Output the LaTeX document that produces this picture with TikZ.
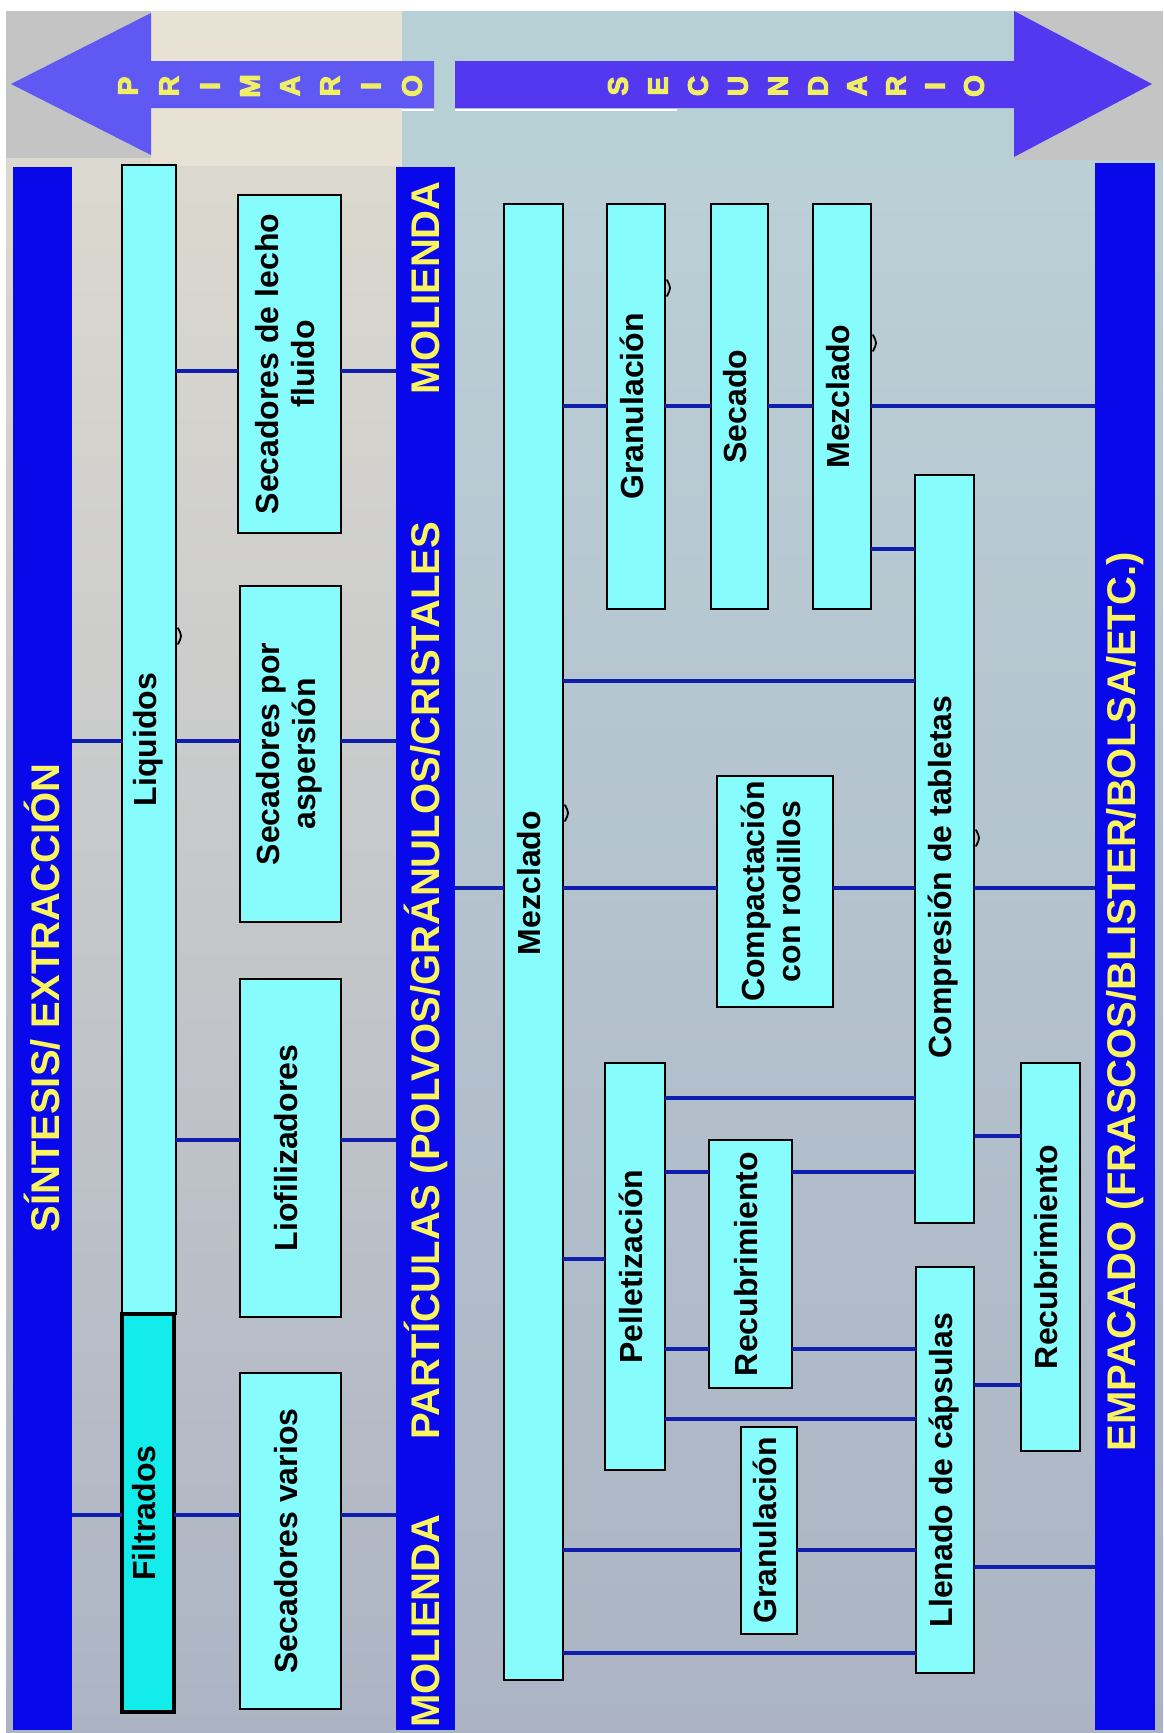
\documentclass[tikz,border=0pt]{standalone}
\usepackage{fontspec}
\setmainfont{Liberation Sans}
\newfontfamily\arrowfont{Liberation Sans}[UprightFeatures={FakeBold=4}, BoldFeatures={FakeBold=4}]
\usetikzlibrary{calc}

% palette
\definecolor{barblue}{RGB}{8,8,235}
\definecolor{baryellow}{RGB}{250,245,95}
\definecolor{boxcyan}{RGB}{135,252,252}
\definecolor{filtcyan}{RGB}{20,236,236}
\definecolor{linkblue}{RGB}{15,30,172}
\definecolor{arrowleft}{RGB}{95,88,242}
\definecolor{arrowright}{RGB}{84,56,240}
\definecolor{arrowtext}{RGB}{240,238,100}
\definecolor{bgltop}{RGB}{224,220,208}
\definecolor{bgrtop}{RGB}{188,210,216}
\definecolor{bgmid}{RGB}{160,170,190}
\definecolor{bgbot}{RGB}{172,180,196}
\definecolor{bggray}{RGB}{196,196,196}
\definecolor{bgbeige}{RGB}{232,226,212}
\definecolor{bgpale}{RGB}{182,208,214}

% upright label turned to read bottom-to-top
\newcommand{\vlabel}[1]{\rotatebox{90}{\begin{tabular}{@{}c@{}}#1\end{tabular}}}
% horizontal connector between two boxes at height #3
\newcommand{\hlink}[3]{\draw[link] (#1.east |- 0,#3) -- (#2.west |- 0,#3);}

\tikzset{
  box/.style={draw=black, line width=1.6pt, fill=boxcyan, inner sep=0pt, outer sep=0pt,
              font=\fontsize{32}{36}\selectfont\bfseries},
  bar/.style={fill=barblue, inner sep=0pt, outer sep=0pt},
  bartext/.style={text=baryellow, inner sep=0pt, font=\fontsize{40}{44}\selectfont\bfseries},
  arrowletter/.style={text=arrowtext, inner sep=0pt, rotate=90, font=\arrowfont\fontsize{28}{30}\selectfont\bfseries},
  link/.style={draw=linkblue, line width=4pt},
  speck/.style={draw=black, line width=1.8pt, line cap=round},
}

\begin{document}
\begin{tikzpicture}[x=1pt, y=-1pt]
\useasboundingbox (0,0) rectangle (1163,1733);

% ---------- background ----------
\fill[white] (0,0) rectangle (1163,1733);
\shade[top color=bgltop, middle color=bgmid, bottom color=bgbot] (6,11) rectangle (402,1733);
\shade[top color=bgrtop, middle color=bgmid, bottom color=bgbot] (402,11) rectangle (1163,1733);
\fill[bgbeige] (151,11) rectangle (402,166);
\fill[bgpale] (402,11) rectangle (1014,166);
\fill[bggray] (6,11) rectangle (151,158);
\fill[bggray] (1014,11) rectangle (1163,160);

% ---------- direction arrows ----------
\fill[arrowleft] (11,84) -- (151,13) -- (151,61) -- (434,61) -- (434,108)
                 -- (151,108) -- (151,155) -- cycle;
\fill[arrowright] (455,61) -- (1014,61) -- (1014,11) -- (1152,84) -- (1014,157)
                  -- (1014,108) -- (455,108) -- cycle;
\draw[white, line width=2pt] (402,109.5) -- (434,109.5);
\draw[white, line width=2pt] (455,109.5) -- (677,109.5);

\foreach \ch/\px [count=\i] in {P/128,R/169,I/210,M/250,A/290,R/330,I/371,O/412}
  \node[arrowletter] (pri\i) at (\px,86) {\ch};
\foreach \ch/\px [count=\i] in {S/618,E/658,C/698,U/738,N/778,D/818,A/857,R/896,I/935,O/974}
  \node[arrowletter] (sec\i) at (\px,86) {\ch};

% ---------- stage bars ----------
\node[bar, minimum width=59pt, minimum height=1563pt] (sint) at (42.5,948.5) {};
\node[bar, minimum width=59pt, minimum height=1563pt] (part) at (425.5,948.5) {};
\node[bar, minimum width=60pt, minimum height=1567pt] (emp) at (1125,946.5) {};

\node[bartext] (sinttxt) at (42.5,998) {\rotatebox{90}{SÍNTESIS/ EXTRACCIÓN}};
\node[bartext] (molA) at (425.5,1621) {\rotatebox{90}{MOLIENDA}};
\node[bartext] (parttxt) at (425.5,981) {\rotatebox{90}{PARTÍCULAS (POLVOS/GRÁNULOS/CRISTALES}};
\node[bartext] (molB) at (425.5,288) {\rotatebox{90}{MOLIENDA}};
\node[bartext] (emptxt) at (1125,1002) {\rotatebox{90}{EMPACADO (FRASCOS/BLISTER/BOLSA/ETC.)}};

% ---------- primary process boxes ----------
\node[box, line width=2.4pt, minimum width=54pt, minimum height=1149pt] (liq) at (149,739.5) {\vlabel{Liquidos}};
\node[box, line width=3.6pt, fill=filtcyan, minimum width=52pt, minimum height=398pt] (filt) at (148,1513) {\vlabel{Filtrados}};
\node[box, minimum width=103pt, minimum height=338pt] (lecho) at (289.5,364) {\vlabel{Secadores de lecho\\fluido}};
\node[box, minimum width=101pt, minimum height=336pt] (asp) at (290.5,754) {\vlabel{Secadores por\\aspersión}};
\node[box, minimum width=101pt, minimum height=338pt] (liof) at (290.5,1148) {\vlabel{Liofilizadores}};
\node[box, minimum width=101pt, minimum height=336pt] (varios) at (290.5,1541) {\vlabel{Secadores varios}};

% ---------- secondary process boxes ----------
\node[box, minimum width=59pt, minimum height=1476pt] (mezA) at (533.5,942) {\vlabel{\hspace*{118pt}Mezclado}};
\node[box, minimum width=58pt, minimum height=405pt] (gran1) at (636,406.5) {\vlabel{Granulación}};
\node[box, minimum width=57pt, minimum height=405pt] (secado) at (739.5,406.5) {\vlabel{Secado}};
\node[box, minimum width=58pt, minimum height=405pt] (mezB) at (842,406.5) {\vlabel{\hspace*{20pt}Mezclado}};
\node[box, minimum width=59pt, minimum height=748pt] (compr) at (944.5,849) {\vlabel{Compresión de tabletas\hspace*{56pt}}};
\node[box, minimum width=116pt, minimum height=231pt] (compact) at (775,891.5) {\vlabel{Compactación\\con rodillos}};
\node[box, minimum width=60pt, minimum height=407pt] (pellet) at (635,1266.5) {\vlabel{Pelletización}};
\node[box, minimum width=83pt, minimum height=248pt] (recubA) at (750.5,1264) {\vlabel{Recubrimiento}};
\node[box, minimum width=56pt, minimum height=207pt] (gran2) at (769,1530.5) {\vlabel{Granulación}};
\node[box, minimum width=58pt, minimum height=406pt] (llen) at (945,1470) {\vlabel{Llenado de cápsulas}};
\node[box, minimum width=59pt, minimum height=388pt] (recubB) at (1050.5,1257) {\vlabel{Recubrimiento}};

% ---------- primary connections ----------
\hlink{liq}{lecho}{371}
\hlink{lecho}{part}{371}
\hlink{sint}{liq}{741}
\hlink{liq}{asp}{741}
\hlink{asp}{part}{741}
\hlink{liq}{liof}{1140}
\hlink{liof}{part}{1140}
\hlink{sint}{filt}{1515}
\hlink{filt}{varios}{1515}
\hlink{varios}{part}{1515}

% ---------- secondary connections ----------
\hlink{part}{mezA}{888}
\hlink{mezA}{compact}{888}
\hlink{compact}{compr}{888}
\hlink{compr}{emp}{888}
\hlink{mezA}{gran1}{406}
\hlink{gran1}{secado}{406}
\hlink{secado}{mezB}{406}
\hlink{mezB}{emp}{406}
\hlink{mezB}{compr}{549}
\hlink{mezA}{compr}{681}
\hlink{pellet}{compr}{1098}
\hlink{pellet}{recubA}{1172}
\hlink{recubA}{compr}{1172}
\hlink{compr}{recubB}{1136}
\hlink{mezA}{pellet}{1259}
\hlink{pellet}{recubA}{1349}
\hlink{recubA}{llen}{1349}
\hlink{llen}{recubB}{1385}
\hlink{pellet}{llen}{1419}
\hlink{mezA}{gran2}{1550}
\hlink{gran2}{llen}{1550}
\hlink{llen}{emp}{1567}
\hlink{mezA}{llen}{1653}

% ---------- small dark specks along box edges ----------
\draw[speck] (178,628) .. controls (182,636) .. (178,644);
\draw[speck] (667,280) .. controls (671,288) .. (667,296);
\draw[speck] (873,335) .. controls (877,343) .. (873,351);
\draw[speck] (565,805) .. controls (569,813) .. (565,821);
\draw[speck] (976,830) .. controls (980,838) .. (976,846);
\end{tikzpicture}
\end{document}
